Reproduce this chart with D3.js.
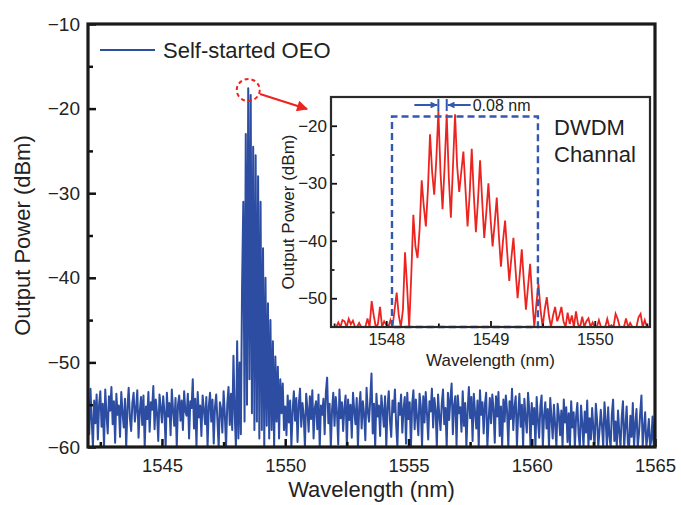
<!DOCTYPE html>
<html>
<head>
<meta charset="utf-8">
<script src="https://cdn.jsdelivr.net/npm/d3@7"></script>
<style>
  html, body { margin: 0; padding: 0; background: #fff; }
  svg { display: block; font-family: "Liberation Sans", Arial, Helvetica, sans-serif; }
</style>
</head>
<body>
<svg id="chart" width="681" height="505"></svg>
<script>
// ---------------- DATA ----------------
// Main spectrum (Self-started OEO), sampled every 0.05 nm from 1542 nm
const mainStart = 1542, mainStep = 0.05;
const mainPower = [
  // 1542
  -54.2,-58.5,-53.1,-56.8,-60,-54.5,-57.2,-53.8,-59.1,-55.0,-53.4,-57.6,-54.9,-60,-53.2,-56.1,-58.4,-54.0,-55.7,-52.9,
  // 1543
  -57.3,-54.6,-59.5,-53.7,-56.2,-55.1,-58.8,-53.5,-55.9,-57.7,-54.3,-60,-55.4,-53.0,-56.6,-58.1,-54.8,-53.6,-57.0,-55.5,
  // 1544
  -53.3,-58.9,-55.8,-54.1,-57.4,-53.9,-60,-55.2,-56.7,-53.5,-58.2,-54.7,-55.6,-52.8,-57.9,-54.4,-56.0,-59.3,-53.8,-55.3,
  // 1545
  -57.1,-54.0,-55.9,-60,-53.6,-56.4,-54.8,-58.6,-53.2,-55.7,-57.5,-54.2,-60,-55.0,-53.9,-56.9,-54.5,-58.0,-53.4,-55.8,
  // 1546
  -56.3,-53.7,-59.0,-54.6,-55.4,-52.0,-57.8,-54.3,-60,-53.5,-56.5,-55.1,-58.7,-53.9,-55.6,-57.3,-54.1,-60,-55.2,-53.6,
  // 1547
  -57.0,-54.4,-59.6,-55.3,-53.8,-56.8,-60,-54.7,-55.5,-58.3,-53.4,-56.1,-60,-54.9,-52.9,-57.4,-53.7,-58.0,-49.2,-56.0,
  // 1548
  -60,-47.5,-59,-50,-58.5,-41,-31,-57,-23,-55,-17.6,-52,-18.4,-56,-24.5,-58,-25.5,-57,-28,-59,
  // 1549
  -31,-58,-36.5,-60,-40,-57.5,-43,-59,-45,-58,-47.5,-60,-49.3,-57,-50.5,-59,-52,-56,-52.5,-58,
  // 1550
  -55.2,-58.6,-53.9,-57.1,-54.5,-60,-55.8,-53.4,-56.9,-54.2,-59.4,-55.0,-53.1,-57.6,-54.8,-56.3,-60,-53.7,-55.5,-58.2,
  // 1551
  -54.0,-56.7,-53.3,-59.0,-55.4,-54.6,-57.9,-53.8,-60,-55.1,-56.2,-54.3,-58.5,-53.5,-51.8,-57.2,-54.9,-60,-55.6,-53.6,
  // 1552
  -57.5,-54.1,-55.9,-59.7,-53.2,-56.6,-54.7,-58.1,-55.3,-53.9,-60,-54.4,-56.8,-55.0,-58.9,-53.6,-55.7,-57.3,-54.2,-60,
  // 1553
  -55.4,-53.5,-57.8,-54.6,-56.1,-59.2,-53.0,-55.8,-57.0,-54.3,-51.3,-58.4,-54.9,-60,-53.7,-56.4,-55.1,-58.7,-53.9,-55.6,
  // 1554
  -57.6,-54.0,-60,-55.3,-53.4,-56.9,-58.8,-54.5,-55.9,-53.2,-57.4,-60,-54.8,-56.2,-53.8,-58.3,-55.5,-54.1,-59.6,-53.6,
  // 1555
  -56.7,-54.7,-60,-55.0,-53.3,-57.9,-54.4,-56.5,-58.6,-53.7,-55.2,-60,-54.0,-57.1,-53.5,-56.0,-59.1,-54.6,-55.8,-53.1,
  // 1556
  -57.7,-54.2,-55.6,-60,-53.8,-56.3,-58.0,-54.9,-53.2,-57.3,-55.4,-60,-53.6,-56.8,-54.3,-52.5,-58.5,-55.1,-54.0,-59.8,
  // 1557
  -53.9,-56.0,-55.3,-58.2,-53.4,-57.5,-54.8,-60,-55.7,-52.9,-56.6,-54.1,-59.3,-53.7,-55.9,-57.8,-54.5,-60,-53.3,-56.2,
  // 1558
  -54.7,-58.4,-55.0,-53.6,-60,-56.9,-54.2,-57.2,-53.8,-55.5,-59.5,-54.0,-56.4,-53.5,-58.7,-55.2,-60,-54.4,-57.0,-53.9,
  // 1559
  -55.8,-60,-54.6,-56.7,-53.1,-58.0,-55.3,-54.0,-59.9,-56.1,-53.7,-57.6,-55.0,-60,-54.3,-56.5,-58.3,-53.6,-55.6,-60,
  // 1560
  -54.8,-57.3,-55.4,-60,-54.1,-56.8,-58.9,-55.2,-53.9,-60,-56.3,-54.7,-57.8,-55.5,-60,-54.2,-56.6,-59.0,-55.0,-57.4,
  // 1561
  -60,-54.9,-56.2,-58.6,-55.7,-60,-54.4,-57.1,-55.3,-59.4,-56.0,-60,-54.6,-57.7,-55.9,-60,-56.4,-54.8,-58.5,-60,
  // 1562
  -55.1,-57.2,-60,-55.8,-58.3,-54.5,-60,-56.6,-59.1,-55.4,-57.9,-60,-54.9,-56.8,-60,-58.0,-55.6,-57.5,-60,-54.7,
  // 1563
  -56.9,-60,-55.3,-58.7,-60,-56.1,-54.4,-59.3,-57.0,-60,-55.7,-58.2,-60,-56.5,-54.6,-60,-57.6,-55.2,-59.6,-60,
  // 1564
  -56.3,-58.8,-54.8,-60,-57.3,-55.5,-60,-58.4,-56.0,-53.9,-60,-57.8,-55.9,-60,-58.6,-56.7,-60,-59.2,-56.4,-60,
  // 1565
  -57.0
];

// Inset spectrum (zoom of DWDM channel), sampled every 0.02 nm from 1547.48 nm
const insetStart = 1547.48, insetStep = 0.02;
const insetPower = [
  -55,-55,-55,-54.2,-55,-53.8,-54,-55,-53.6,-54.5,
  -53.9,-55,-55,-54.3,-55,-55,-55,-53.5,-55,-50.5,
  -53,-55,-54.5,-51.5,-55,-54,-54.6,-55,-53.8,-55,
  -52,-49,-53,-55,-52,-42,-48,-55,-46,-35.5,
  -41,-43,-38,-29.5,-34,-37.5,-31,-21.5,-28,-32,
  -26,-17.4,-28,-34.5,-27,-18,-29,-36,-27,-18,
  -27,-31.5,-28,-24.5,-31,-37.5,-32,-24,-32,-38.5,
  -33,-26,-33,-39.5,-35,-30,-36,-41,-37,-32.5,
  -39,-44.5,-40,-36.5,-42,-47,-43,-39.5,-45,-50,
  -46,-41.5,-47,-52,-48,-44,-50,-55,-51,-47.5,
  -52,-55,-52,-49.8,-53,-55,-53,-51.5,-54,-53,
  -51.5,-54,-55,-52.5,-54.5,-53,-55,-52.3,-54.6,-55,
  -53.2,-55,-54,-53.5,-55,-54.2,-55,-55,-53.8,-55,
  -55,-55,-53.6,-55,-54.7,-55,-52.7,-53.6,-55,-55,
  -55,-53.5,-55,-54.3,-55,-55,-55,-53.3,-52.7,-55,
  -53.8,-55,-55
];

// Axes / ticks
const mainXDomain = [1542, 1565];
const mainYDomain = [-60, -10];
const mainXTicks = [1545, 1550, 1555, 1560, 1565];
const mainXMinor = [1542.5, 1547.5, 1552.5, 1557.5, 1562.5];
const mainYTicks = [-60, -50, -40, -30, -20, -10];
const mainYMinor = [-55, -45, -35, -25, -15];

const insetXDomain = [1547.47, 1550.53];
const insetYDomain = [-55, -15];
const insetXTicks = [1548, 1549, 1550];
const insetXMinor = [1547.5, 1548.5, 1549.5, 1550.5];
const insetYTicks = [-50, -40, -30, -20];
const insetYMinor = [-45, -35, -25];

// DWDM channel window and comb spacing annotation
const channelBox = { x0: 1548.055, x1: 1549.455, top: -18.4, bottom: -55 };
const spacing = { a: 1548.5, b: 1548.58, label: "0.08 nm" };
const peakMark = { x: 1548.5, y: -17.8 };

const legendLabel = "Self-started OEO";
const xTitle = "Wavelength (nm)";
const yTitle = "Output Power (dBm)";
const channelLabel = ["DWDM", "Channal"];

// ---------------- DRAW ----------------
const svg = d3.select("#chart");
const blue = "#2c4da2", red = "#ec2420", boxBlue = "#3358b0";
const minus = d => d3.format("")(d).replace("-", "\u2212");

// Main plot
const M = { left: 88, right: 655, top: 24, bottom: 447 };
const x = d3.scaleLinear(mainXDomain, [M.left, M.right]);
const y = d3.scaleLinear(mainYDomain, [M.bottom, M.top]);

const defs = svg.append("defs");
defs.append("clipPath").attr("id", "mainClip")
  .append("rect").attr("x", M.left).attr("y", M.top)
  .attr("width", M.right - M.left).attr("height", M.bottom - M.top);

const mainData = mainPower.map((v, i) => [mainStart + i * mainStep, Math.max(v, -60)]);
svg.append("path")
  .datum(mainData)
  .attr("clip-path", "url(#mainClip)")
  .attr("fill", "none")
  .attr("stroke", blue)
  .attr("stroke-width", 2)
  .attr("stroke-linejoin", "round")
  .attr("d", d3.line().x(d => x(d[0])).y(d => y(d[1])));

// axes (ticks pointing inward)
function styleAxis(g, fs, tw) {
  g.select(".domain").remove();
  g.selectAll("line").attr("stroke", "#111").attr("stroke-width", tw);
  g.selectAll("text").attr("fill", "#222").style("font-size", fs + "px")
    .style("font-family", "'Liberation Sans', Arial, sans-serif");
}
svg.append("g").attr("transform", `translate(0,${M.bottom})`)
  .call(d3.axisBottom(x).tickValues(mainXTicks).tickSize(-8).tickPadding(12).tickFormat(d3.format("d")))
  .call(g => styleAxis(g, 18.5, 2.5));
svg.append("g").attr("transform", `translate(0,${M.bottom})`)
  .call(d3.axisBottom(x).tickValues(mainXMinor).tickSize(-5).tickFormat(""))
  .call(g => styleAxis(g, 18, 2.5));
svg.append("g").attr("transform", `translate(${M.left},0)`)
  .call(d3.axisLeft(y).tickValues(mainYTicks).tickSize(-8).tickPadding(8).tickFormat(minus))
  .call(g => styleAxis(g, 19, 2.5));
svg.append("g").attr("transform", `translate(${M.left},0)`)
  .call(d3.axisLeft(y).tickValues(mainYMinor).tickSize(-5).tickFormat(""))
  .call(g => styleAxis(g, 18, 2.5));

// frame
svg.append("rect").attr("x", M.left).attr("y", M.top)
  .attr("width", M.right - M.left).attr("height", M.bottom - M.top)
  .attr("fill", "none").attr("stroke", "#1a1a1a").attr("stroke-width", 3.2);

// axis titles
svg.append("text").attr("x", (M.left + M.right) / 2).attr("y", 497)
  .attr("text-anchor", "middle").attr("fill", "#222").style("font-size", "22px").text(xTitle);
svg.append("text").attr("transform", `translate(30,${(M.top + M.bottom) / 2}) rotate(-90)`)
  .attr("text-anchor", "middle").attr("fill", "#222").style("font-size", "22px").text(yTitle);

// legend
svg.append("line").attr("x1", 100).attr("x2", 155).attr("y1", 50).attr("y2", 50)
  .attr("stroke", blue).attr("stroke-width", 2);
svg.append("text").attr("x", 163).attr("y", 58).attr("fill", "#222")
  .style("font-size", "22px").text(legendLabel);

// red dashed circle around the peak and arrow to inset
svg.append("ellipse").attr("cx", x(peakMark.x)).attr("cy", y(peakMark.y))
  .attr("rx", 11.5).attr("ry", 11)
  .attr("fill", "none").attr("stroke", red).attr("stroke-width", 2).attr("stroke-dasharray", "4,3");
defs.append("marker").attr("id", "redHead").attr("viewBox", "0 0 10 10")
  .attr("refX", 9).attr("refY", 5).attr("markerWidth", 5.5).attr("markerHeight", 5)
  .attr("orient", "auto").attr("markerUnits", "strokeWidth")
  .append("path").attr("d", "M0,0 L10,5 L0,10 Z").attr("fill", red);
svg.append("line").attr("x1", 260).attr("y1", 94).attr("x2", 307).attr("y2", 109)
  .attr("stroke", red).attr("stroke-width", 2.2).attr("marker-end", "url(#redHead)");

// ---------------- INSET ----------------
const I = { left: 331, right: 650, top: 97, bottom: 327 };
const xi = d3.scaleLinear(insetXDomain, [I.left, I.right]);
const yi = d3.scaleLinear(insetYDomain, [I.bottom, I.top]);

svg.append("rect").attr("x", I.left).attr("y", I.top)
  .attr("width", I.right - I.left).attr("height", I.bottom - I.top).attr("fill", "#fff");
defs.append("clipPath").attr("id", "insetClip")
  .append("rect").attr("x", I.left).attr("y", I.top)
  .attr("width", I.right - I.left).attr("height", I.bottom - I.top);

const insetData = insetPower.map((v, i) => [insetStart + i * insetStep, v]);
svg.append("path")
  .datum(insetData)
  .attr("clip-path", "url(#insetClip)")
  .attr("fill", "none")
  .attr("stroke", red)
  .attr("stroke-width", 1.8)
  .attr("d", d3.line().x(d => xi(d[0])).y(d => yi(d[1])));

// dashed channel box
const bx0 = xi(channelBox.x0), bx1 = xi(channelBox.x1), by0 = yi(channelBox.top), by1 = yi(channelBox.bottom);
svg.append("path")
  .attr("d", `M${bx0},${by1} L${bx0},${by0} L${bx1},${by0} L${bx1},${by1} Z`)
  .attr("fill", "none").attr("stroke", boxBlue).attr("stroke-width", 2.4).attr("stroke-dasharray", "7,4");

// inset axes
svg.append("g").attr("transform", `translate(0,${I.bottom})`)
  .call(d3.axisBottom(xi).tickValues(insetXTicks).tickSize(-6).tickPadding(6).tickFormat(d3.format("d")))
  .call(g => styleAxis(g, 16.5, 1.8));
svg.append("g").attr("transform", `translate(0,${I.bottom})`)
  .call(d3.axisBottom(xi).tickValues(insetXMinor).tickSize(-3.5).tickFormat(""))
  .call(g => styleAxis(g, 16, 1.8));
svg.append("g").attr("transform", `translate(${I.left},0)`)
  .call(d3.axisLeft(yi).tickValues(insetYTicks).tickSize(-6).tickPadding(4).tickFormat(minus))
  .call(g => styleAxis(g, 17, 1.8));
svg.append("g").attr("transform", `translate(${I.left},0)`)
  .call(d3.axisLeft(yi).tickValues(insetYMinor).tickSize(-3.5).tickFormat(""))
  .call(g => styleAxis(g, 16, 1.8));

svg.append("rect").attr("x", I.left).attr("y", I.top)
  .attr("width", I.right - I.left).attr("height", I.bottom - I.top)
  .attr("fill", "none").attr("stroke", "#2a2a2a").attr("stroke-width", 2.2);

svg.append("text").attr("x", (I.left + I.right) / 2).attr("y", 366)
  .attr("text-anchor", "middle").attr("fill", "#222").style("font-size", "17px").text(xTitle);
svg.append("text").attr("transform", `translate(294,${(I.top + I.bottom) / 2}) rotate(-90)`)
  .attr("text-anchor", "middle").attr("fill", "#222").style("font-size", "17px").text(yTitle);

// channel label
channelLabel.forEach((t, k) => {
  svg.append("text").attr("x", 554).attr("y", 135 + k * 27).attr("fill", "#222")
    .style("font-size", "22px").text(t);
});

// 0.08 nm spacing annotation
defs.append("marker").attr("id", "blueHead").attr("viewBox", "0 0 10 10")
  .attr("refX", 10).attr("refY", 5).attr("markerWidth", 4).attr("markerHeight", 3.4)
  .attr("orient", "auto").attr("markerUnits", "strokeWidth")
  .append("path").attr("d", "M0,0 L10,5 L0,10 Z").attr("fill", boxBlue);
const ay = 105, xa = xi(spacing.a), xb = xi(spacing.b);
svg.append("line").attr("x1", xa).attr("x2", xa).attr("y1", ay - 6).attr("y2", ay + 6)
  .attr("stroke", boxBlue).attr("stroke-width", 2);
svg.append("line").attr("x1", xb).attr("x2", xb).attr("y1", ay - 6).attr("y2", ay + 6)
  .attr("stroke", boxBlue).attr("stroke-width", 2);
svg.append("line").attr("x1", xa - 24).attr("x2", xa - 1).attr("y1", ay).attr("y2", ay)
  .attr("stroke", boxBlue).attr("stroke-width", 2).attr("marker-end", "url(#blueHead)");
svg.append("line").attr("x1", xb + 24).attr("x2", xb + 1).attr("y1", ay).attr("y2", ay)
  .attr("stroke", boxBlue).attr("stroke-width", 2).attr("marker-end", "url(#blueHead)");
svg.append("text").attr("x", xb + 26).attr("y", ay + 6).attr("fill", "#222")
  .style("font-size", "16px").text(spacing.label);
</script>
</body>
</html>
